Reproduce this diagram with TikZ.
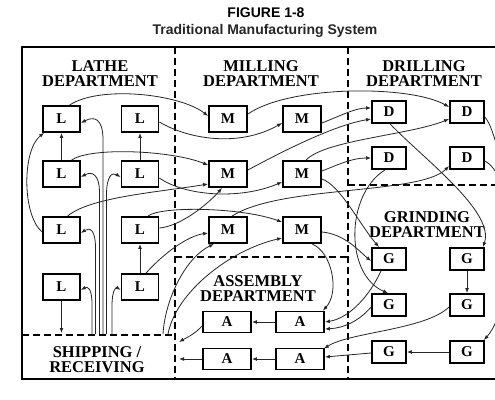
\documentclass[tikz,border=0pt]{standalone}
\usepackage{fontspec}
\setmainfont{Liberation Serif}
\newfontfamily\headfont{Liberation Sans}
\usetikzlibrary{arrows.meta}

\begin{document}
\begin{tikzpicture}[x=1pt,y=-1pt,
  conn/.style={draw=black!85,line width=0.8pt},
  arr/.style={conn,-{Latex[length=5pt,width=3.8pt]}},
  mbox/.style={draw=black,line width=1.8pt,fill=white,inner sep=0pt,
    font=\bfseries\fontsize{15}{15}\selectfont},
  lbox/.style={mbox,minimum width=37pt,minimum height=26pt},
  dbox/.style={mbox,minimum width=34pt,minimum height=22pt},
  abox/.style={mbox,minimum width=48pt,minimum height=21pt},
  dept/.style={font=\bfseries\fontsize{16.5}{15}\selectfont,align=center,inner sep=0pt},
  dline/.style={line width=2.4pt,dash pattern=on 7pt off 4pt},
  frame/.style={line width=2.7pt}
]
\fill[white] (0,0) rectangle (495,399);
\useasboundingbox (0,0) rectangle (495,399);

% heading
\node[font=\headfont\bfseries\fontsize{14}{14}\selectfont,anchor=base,inner sep=0pt] (fig) at (266,17) {FIGURE 1-8};
\node[font=\headfont\bfseries\fontsize{14}{14}\selectfont,anchor=base,inner sep=0pt,text=black!85] (sub) at (265,34) {Traditional Manufacturing System};

% outer frame and department borders
\draw[frame] (505,47) -- (22,47) -- (22,379) -- (505,379);
\draw[dline] (175,47) -- (175,379);
\draw[dline] (348,47) -- (348,379);
\draw[dline] (22,335) -- (175,335);
\draw[dline] (175,257) -- (348,257);
\draw[dline] (348,185) -- (500,185);

% department names
\node[dept] (lathe) at (100,74) {LATHE\\DEPARTMENT};
\node[dept] (mill) at (261,74) {MILLING\\DEPARTMENT};
\node[dept] (drill) at (424,74) {DRILLING\\DEPARTMENT};
\node[dept] (grind) at (427,225) {GRINDING\\DEPARTMENT};
\node[dept] (assem) at (258,289) {ASSEMBLY\\DEPARTMENT};
\node[dept] (ship) at (97,360) {SHIPPING /\\RECEIVING};

% machines
\node[lbox] (L11) at (61.5,119) {L};
\node[lbox] (L12) at (140,119) {L};
\node[lbox] (L21) at (61.5,174) {L};
\node[lbox] (L22) at (140,174) {L};
\node[lbox] (L31) at (61.5,230) {L};
\node[lbox] (L32) at (140,230) {L};
\node[lbox] (L41) at (61.5,287) {L};
\node[lbox] (L42) at (140,287) {L};

\node[lbox,minimum width=38pt] (M11) at (228,119) {M};
\node[lbox,minimum width=38pt] (M12) at (302,119) {M};
\node[lbox,minimum width=38pt] (M21) at (228,174) {M};
\node[lbox,minimum width=38pt] (M22) at (302,174) {M};
\node[lbox,minimum width=38pt] (M31) at (228,230) {M};
\node[lbox,minimum width=38pt] (M32) at (302,230) {M};

\node[dbox] (D11) at (389,112) {D};
\node[dbox] (D12) at (467,112) {D};
\node[dbox] (D21) at (389,158) {D};
\node[dbox] (D22) at (467,158) {D};

\node[dbox] (G11) at (389,259) {G};
\node[dbox] (G12) at (467,259) {G};
\node[dbox] (G21) at (389,305) {G};
\node[dbox] (G22) at (467,305) {G};
\node[dbox] (G31) at (389,352) {G};
\node[dbox] (G32) at (467,352) {G};

\node[abox] (A11) at (227,322) {A};
\node[abox] (A12) at (300,322) {A};
\node[abox] (A21) at (227,359) {A};
\node[abox] (A22) at (300,359) {A};

% points on the shipping / receiving border
\coordinate (s1) at (92,334);
\coordinate (s2) at (95.5,334);
\coordinate (s3) at (99.5,334);
\coordinate (s4) at (103,334);
\coordinate (s5) at (106.5,334);
\coordinate (s6) at (112,334);
\coordinate (s7) at (163,334);
\coordinate (s8) at (168,334);
\coordinate (shipIn) at (61.5,333);
\coordinate (shipA1) at (179,342);
\coordinate (shipA2) at (179,359);
\coordinate (offR) at (503,170);

% receiving bundle into the lathes
\draw[arr] (s1) -- (92,304) .. controls (92,289) and (88,286) .. ([yshift=-3]L41.east);
\draw[arr] (s2) -- (95.5,248) .. controls (95.5,230) and (90,227) .. ([yshift=-3]L31.east);
\draw[arr] (s3) -- (99.5,193) .. controls (99.5,174) and (92,171) .. ([yshift=-3]L21.east);
\draw[arr] (s4) -- (103,140) .. controls (103,118) and (94,116) .. ([yshift=-4]L11.east);
\draw[arr] (s5) -- (106.5,195) .. controls (106.5,176) and (112,172) .. ([yshift=-3]L22.west);
\draw[arr] (s6) -- (112,306) .. controls (112,290) and (116,287) .. ([yshift=-3]L42.west);
\draw[arr] (L41.south) -- (shipIn);

% lathe department
\draw[arr] (L21.north) -- (L11.south);
\draw[arr] (L22.north) -- (L12.south);
\draw[arr] (L42.north) -- (L32.south);
\draw[arr] ([yshift=-2]L31.west) .. controls (22,215) and (22,150) .. ([xshift=2]L11.south west);
\draw[arr] ([xshift=8]L11.north) .. controls (100,85) and (180,94) .. ([yshift=3]M11.west);
\draw[arr] ([xshift=10]L21.north) .. controls (90,147) and (170,150) .. ([yshift=9]M21.west);
\draw[arr] ([yshift=-3]L12.east) .. controls (190,140) and (240,147) .. ([yshift=-4]M12.west);
\draw[arr] ([yshift=-4]L22.east) .. controls (185,196) and (240,200) .. ([yshift=-8]M22.west);
\draw[arr] ([xshift=6]L31.north) .. controls (90,197) and (160,192) .. ([yshift=-10]M21.west);
\draw[arr] ([yshift=2]L32.east) .. controls (182,226) and (210,202) .. ([xshift=-6]M21.south);
\draw[arr] ([xshift=8]L32.north) .. controls (160,206) and (240,207) .. ([yshift=8]M32.west);
\draw[arr] ([xshift=6]L42.north) .. controls (165,252) and (188,236) .. ([yshift=-3]M31.west);
\draw[arr] (s7) .. controls (165,300) and (185,258) .. ([xshift=-14]M31.south);
\draw[arr] (s8) .. controls (176,292) and (230,250) .. ([yshift=-8]M32.west);

% milling department
\draw[arr] ([yshift=5]M11.east) .. controls (290,85) and (410,85) .. ([yshift=5]D12.west);
\draw[arr] ([yshift=-4]M12.east) .. controls (340,116) and (355,108) .. ([yshift=4]D11.west);
\draw[arr] ([yshift=4]M21.east) .. controls (285,150) and (335,125) .. ([yshift=-7]D11.west);
\draw[arr] ([xshift=4]M22.north) .. controls (325,140) and (410,135) .. ([yshift=-7]D12.west);
\draw[arr] ([yshift=3]M22.east) .. controls (340,164) and (352,158) .. (D21.west);
\draw[arr] ([yshift=-5]M22.east) .. controls (340,185) and (360,225) .. ([xshift=-10]G11.north);
\draw[arr] ([yshift=-2]M32.east) .. controls (345,234) and (360,252) .. ([yshift=-2]G11.west);
\draw[arr] ([xshift=10]M32.south) .. controls (332,252) and (340,292) .. ([xshift=-2]A12.north east);
\draw[arr] ([xshift=4]M31.north) .. controls (280,185) and (420,195) .. ([yshift=-8]D22.west);

% drilling department
\draw[arr] ([xshift=1]D11.south) .. controls (425,160) and (495,212) .. ([xshift=-2]G12.north east);
\draw[conn] ([yshift=-5]D12.east) .. controls (492,125) and (498,150) .. (offR);
\draw[arr] ([yshift=-3]D22.east) .. controls (520,180) and (515,305) .. ([xshift=-1]G32.north east);
\draw[arr] ([xshift=-4]D21.south) .. controls (345,195) and (345,275) .. ([xshift=-1]G21.north);

% grinding department
\draw[arr] (G12.south) -- (G22.north);
\draw[arr] ([xshift=-8]G11.south) .. controls (370,295) and (350,318) .. (A12.east);
\draw[arr] ([yshift=-2]G21.west) .. controls (360,320) and (345,328) .. ([yshift=-7]A12.east);
\draw[arr] ([yshift=-2]G22.west) .. controls (425,330) and (350,332) .. ([xshift=-1,yshift=-1]A22.north east);
\draw[arr] (G32.west) -- (G31.east);
\draw[arr] ([yshift=-1]G31.west) -- ([yshift=2]A22.east);

% assembly department
\draw[arr] (A12.west) -- (A11.east);
\draw[arr] (A22.west) -- (A21.east);
\draw[arr] ([yshift=-4]A11.west) .. controls (195,334) and (186,338) .. (shipA1);
\draw[arr] (A21.west) -- (shipA2);
\end{tikzpicture}
\end{document}
